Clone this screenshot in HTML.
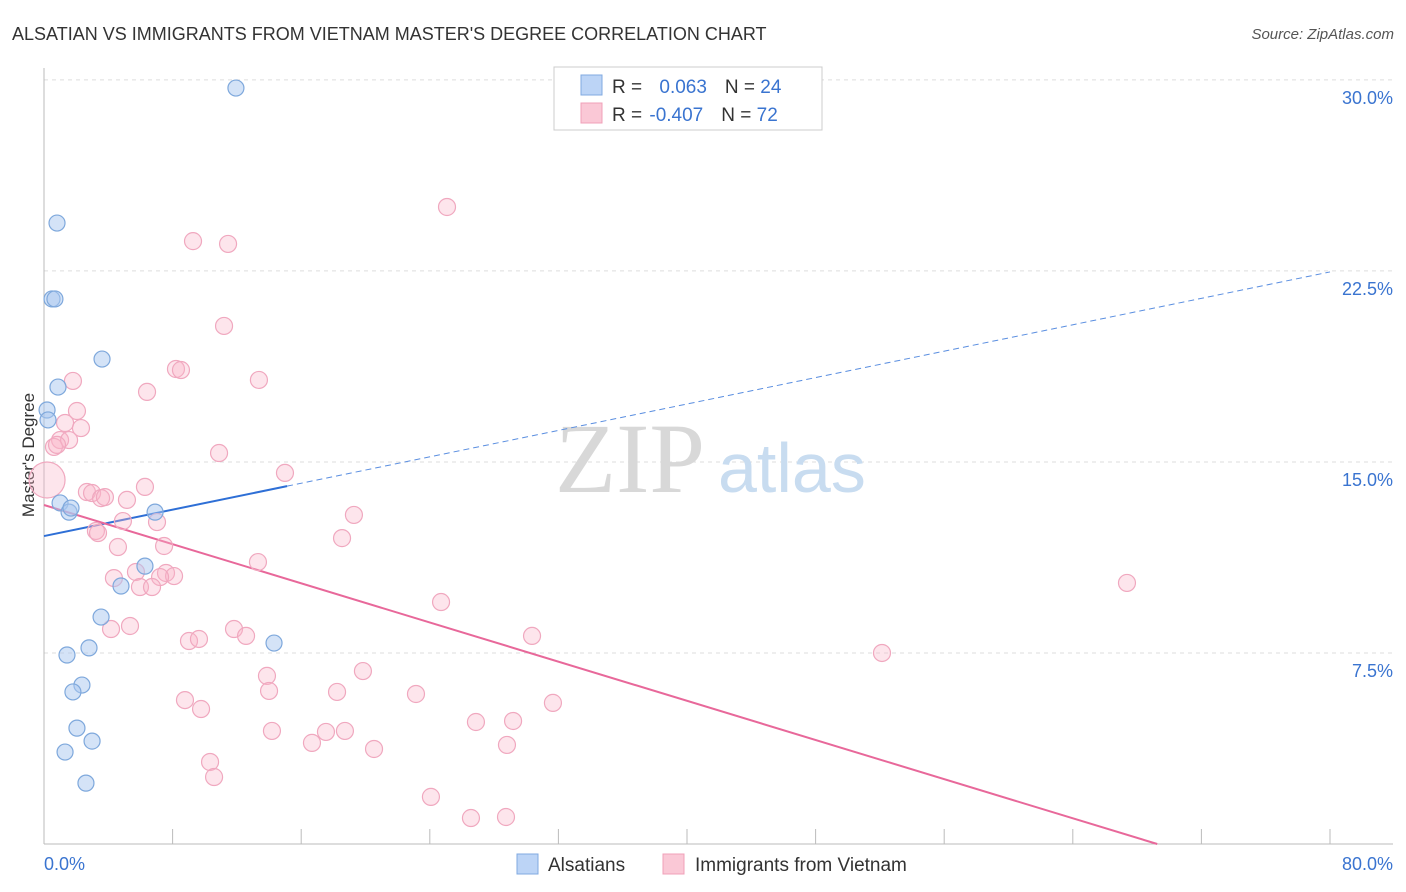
<!DOCTYPE html>
<html><head><meta charset="utf-8"><style>
body{margin:0;background:#fff;font-family:"Liberation Sans",sans-serif}
svg{display:block}
</style></head><body>
<svg id="chart" width="1406" height="892">
<text x="12" y="40" font-size="18" fill="#333">ALSATIAN VS IMMIGRANTS FROM VIETNAM MASTER'S DEGREE CORRELATION CHART</text>
<text x="1394" y="39" font-size="15" fill="#555" text-anchor="end" font-style="italic">Source: ZipAtlas.com</text>
<text x="0" y="0" transform="translate(34,455) rotate(-90)" font-size="17" fill="#333" text-anchor="middle">Master's Degree</text>
<g id="grid"></g>
<text x="555" y="492" font-size="100" fill="#d8d8d8" font-family="Liberation Serif">ZIP</text>
<text x="718" y="492" font-size="70" fill="#c8dcf0">atlas</text>
<g id="lines"></g>
<g id="pts"></g>
<g>
<rect x="554" y="67" width="268" height="63" fill="#fff" stroke="#ccc"/>
<rect x="581" y="75" width="21" height="20" fill="#bcd4f6" stroke="#80aae0"/>
<rect x="581" y="103" width="21" height="20" fill="#fac8d6" stroke="#f0a0b8"/>
<text x="612" y="93" font-size="19" fill="#333">R = <tspan fill="#3a74d0" dx="12">0.063</tspan><tspan dx="18" fill="#333">N = </tspan><tspan fill="#3a74d0">24</tspan></text>
<text x="612" y="121" font-size="19" fill="#333">R = <tspan fill="#3a74d0" dx="2">-0.407</tspan><tspan dx="18" fill="#333">N = </tspan><tspan fill="#3a74d0">72</tspan></text>
</g>
<g>
<rect x="517" y="854" width="21" height="20" fill="#bcd4f6" stroke="#80aae0"/>
<text x="548" y="871" font-size="19" fill="#333">Alsatians</text>
<rect x="663" y="854" width="21" height="20" fill="#fac8d6" stroke="#f0a0b8"/>
<text x="695" y="871" font-size="19" fill="#333">Immigrants from Vietnam</text>
</g>
</svg>
<script>
const yTicks=[7.5,15,22.5,30];
const yTickLabels=["7.5%","15.0%","22.5%","30.0%"];
const xTicks=[0,8,16,24,32,40,48,56,64,72,80];
const blueX=[11.94,0.81,0.50,0.68,3.61,0.87,0.19,0.25,1.00,1.56,1.68,6.91,6.28,4.79,3.55,2.80,1.43,14.31,2.36,1.80,2.05,2.99,1.31,2.61];
const blueY=[29.68,24.38,21.40,21.40,19.04,17.94,17.04,16.65,13.39,13.03,13.19,13.03,10.91,10.13,8.91,7.70,7.42,7.89,6.24,5.97,4.55,4.04,3.61,2.39];
const pinkX=[25.07,9.27,11.45,11.20,8.21,8.52,13.37,1.80,6.41,2.05,1.31,2.30,1.00,1.56,0.62,10.89,14.99,6.28,2.67,2.99,3.55,3.79,5.16,19.28,4.91,7.03,3.23,3.36,18.54,4.60,7.47,13.31,5.72,7.59,4.35,8.09,7.22,5.97,6.72,24.70,4.17,5.35,11.82,9.02,9.64,12.57,30.36,52.13,67.37,19.84,13.87,14.00,18.23,23.14,8.77,9.77,31.66,26.87,29.18,14.18,17.54,18.72,16.67,20.53,28.80,10.33,10.58,24.07,26.56,28.74,0.19,0.81];
const pinkY=[25.01,23.67,23.56,20.34,18.65,18.61,18.22,18.18,17.75,17.00,16.53,16.33,15.86,15.86,15.59,15.35,14.57,14.02,13.82,13.78,13.58,13.62,13.51,12.92,12.68,12.64,12.29,12.21,12.01,11.66,11.70,11.07,10.68,10.64,10.44,10.52,10.48,10.09,10.09,9.50,8.44,8.56,8.44,7.97,8.05,8.17,8.17,7.50,10.25,6.79,6.60,6.01,5.97,5.89,5.65,5.30,5.54,4.79,4.83,4.44,4.40,4.44,3.97,3.73,3.89,3.22,2.63,1.85,1.02,1.06,14.29,15.67];
const pinkR=pinkX.map((v,i)=>i===70?18:8.5);
const blueTrend=[12.09,22.46];const blueSolidEnd=15.12;
const pinkTrend=[13.31,-0.1922];
const NS="http://www.w3.org/2000/svg";
const X=v=>44+v*16.075, Y=v=>844-v*25.47;
function mk(tag,attrs,parent){const e=document.createElementNS(NS,tag);for(const k in attrs)e.setAttribute(k,attrs[k]);parent.appendChild(e);return e;}
const grid=document.getElementById('grid');
yTicks.forEach((t,i)=>{
 const l=mk('line',{x1:44,x2:1393,y1:Y(t),y2:Y(t),stroke:'#ddd','stroke-dasharray':'4,4'},grid);
 
 
 const tx=mk('text',{x:1393,y:Y(t)+24,'font-size':18,fill:'#3a74d0','text-anchor':'end'},grid);
 tx.textContent=yTickLabels[i];
 
 
});
mk('line',{x1:44,x2:44,y1:68,y2:844,stroke:'#bbb'},grid);
mk('line',{x1:44,x2:1393,y1:844,y2:844,stroke:'#bbb'},grid);
xTicks.forEach(t=>{const l=mk('line',{x1:X(t),x2:X(t),y1:829,y2:844,stroke:'#bbb'},grid);
 
 });
const xl0=mk('text',{x:44,y:870,'font-size':18,fill:'#3a74d0'},grid);xl0.textContent='0.0%';


const xl1=mk('text',{x:1393,y:870,'font-size':18,fill:'#3a74d0','text-anchor':'end'},grid);xl1.textContent='80.0%';


const pts=document.getElementById('pts');
pinkX.forEach((x,i)=>{const c=mk('circle',{cx:X(x),cy:Y(pinkY[i]),r:pinkR[i],fill:'rgba(248,180,200,0.35)',stroke:'#f0a8bf','stroke-width':1.2},pts);
 
 });
blueX.forEach((x,i)=>{const c=mk('circle',{cx:X(x),cy:Y(blueY[i]),r:8,fill:'rgba(170,200,240,0.5)',stroke:'#7ea8dc','stroke-width':1.2},pts);
 
 });
const lines=document.getElementById('lines');
const bY=x=>blueTrend[0]+(blueTrend[1]-blueTrend[0])*x/80;
const b1=mk('line',{x1:X(0),y1:Y(bY(0)),x2:X(blueSolidEnd),y2:Y(bY(blueSolidEnd)),stroke:'#2e6fd6','stroke-width':2},lines);


const b2=mk('line',{x1:X(blueSolidEnd),y1:Y(bY(blueSolidEnd)),x2:X(80),y2:Y(bY(80)),stroke:'#5a8ee0','stroke-width':1,'stroke-dasharray':'6,4'},lines);


const xEnd=-pinkTrend[0]/pinkTrend[1];
const p1=mk('line',{x1:X(0),y1:Y(pinkTrend[0]),x2:X(xEnd),y2:Y(0),stroke:'#e8689a','stroke-width':2},lines);


</script>
</body></html>
